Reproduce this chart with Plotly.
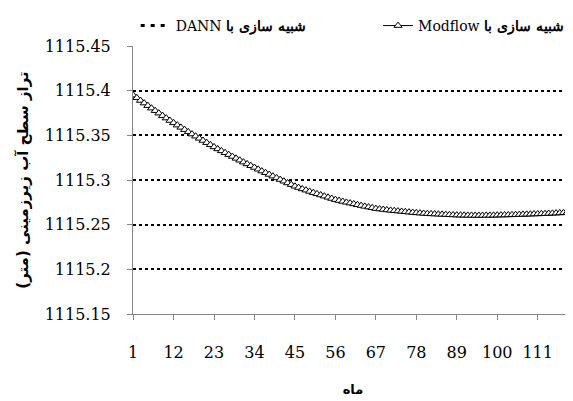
import plotly.graph_objects as go

# month index and simulated groundwater level (m)
months = list(range(1, 121))
modflow = [
    1115.3950, 1115.3920, 1115.3890, 1115.3861, 1115.3832, 1115.3804, 1115.3776, 1115.3748, 1115.3720, 1115.3693,
    1115.3666, 1115.3640, 1115.3614, 1115.3589, 1115.3564, 1115.3539, 1115.3514, 1115.3490, 1115.3466, 1115.3442,
    1115.3418, 1115.3394, 1115.3370, 1115.3348, 1115.3326, 1115.3305, 1115.3284, 1115.3263, 1115.3242, 1115.3221,
    1115.3200, 1115.3180, 1115.3160, 1115.3140, 1115.3120, 1115.3100, 1115.3081, 1115.3062, 1115.3043, 1115.3024,
    1115.3005, 1115.2986, 1115.2967, 1115.2948, 1115.2930, 1115.2915, 1115.2900, 1115.2886, 1115.2872, 1115.2858,
    1115.2845, 1115.2832, 1115.2819, 1115.2806, 1115.2793, 1115.2780, 1115.2770, 1115.2760, 1115.2750, 1115.2741,
    1115.2732, 1115.2723, 1115.2714, 1115.2705, 1115.2697, 1115.2689, 1115.2680, 1115.2675, 1115.2670, 1115.2665,
    1115.2660, 1115.2656, 1115.2652, 1115.2648, 1115.2644, 1115.2640, 1115.2636, 1115.2632, 1115.2629, 1115.2626,
    1115.2623, 1115.2621, 1115.2619, 1115.2617, 1115.2615, 1115.2613, 1115.2611, 1115.2609, 1115.2607, 1115.2606,
    1115.2605, 1115.2604, 1115.2604, 1115.2603, 1115.2603, 1115.2603, 1115.2604, 1115.2604, 1115.2605, 1115.2606,
    1115.2607, 1115.2608, 1115.2609, 1115.2610, 1115.2612, 1115.2613, 1115.2614, 1115.2616, 1115.2617, 1115.2619,
    1115.2620, 1115.2622, 1115.2623, 1115.2625, 1115.2627, 1115.2629, 1115.2631, 1115.2633, 1115.2635, 1115.2637,
]
# DANN curve sits under the Modflow markers, indistinguishable in the picture
dann = list(modflow)

x_ticks = [1, 12, 23, 34, 45, 56, 67, 78, 89, 100, 111]
y_ticks = [1115.15, 1115.2, 1115.25, 1115.3, 1115.35, 1115.4, 1115.45]
y_labels = ["1115.15", "1115.2", "1115.25", "1115.3", "1115.35", "1115.4", "1115.45"]

SERIF = "DejaVu Serif"
AXIS_GREY = "#868686"

fig = go.Figure()
fig.add_trace(go.Scatter(
    x=months, y=dann, mode="lines",
    name="DANN <b>شبیه سازی با</b>",
    line=dict(color="black", width=3, dash="4px,6px"),
    legend="legend",
))
fig.add_trace(go.Scatter(
    x=months, y=modflow, mode="lines+markers",
    name="Modflow <b>شبیه سازی با</b>",
    line=dict(color="black", width=1),
    marker=dict(symbol="triangle-up", size=7, color="white",
                line=dict(color="black", width=1)),
    legend="legend2",
))

legend_style = dict(
    orientation="h", xref="container", yref="container",
    y=0.995, xanchor="left", yanchor="top",
    font=dict(family=SERIF, size=14), bgcolor="rgba(0,0,0,0)",
)

# the page body adds an 8px offset, so the figure is sized 8px short
fig.update_layout(
    width=565, height=393,
    showlegend=True,
    margin=dict(l=125, r=0, t=38, b=87, autoexpand=False),
    paper_bgcolor="white", plot_bgcolor="white",
    font=dict(family=SERIF, size=16, color="black"),
    legend=dict(legend_style, x=0.226),
    legend2=dict(legend_style, x=0.655),
    xaxis=dict(
        range=[0.97, 120.6], tickvals=x_ticks,
        showgrid=False, zeroline=False,
        showline=True, linecolor=AXIS_GREY, linewidth=1,
        ticks="outside", ticklen=5, tickcolor=AXIS_GREY,
        ticklabelstandoff=19,
        title=dict(text="<b>ماه</b>", font=dict(family="DejaVu Sans", size=13), standoff=23),
    ),
    yaxis=dict(
        range=[1115.15, 1115.45], tickvals=y_ticks, ticktext=y_labels,
        showgrid=True, gridcolor="black", griddash="dot", gridwidth=2,
        zeroline=False,
        showline=True, linecolor=AXIS_GREY, linewidth=1,
        ticks="outside", ticklen=5, tickcolor=AXIS_GREY,
        ticklabelstandoff=13,
        title=dict(text="<b>\u202Bتراز سطح آب زیرزمینی (متر)\u202C</b>",
                   font=dict(family="DejaVu Sans", size=15), standoff=12),
    ),
)

fig.write_html("out.html")
